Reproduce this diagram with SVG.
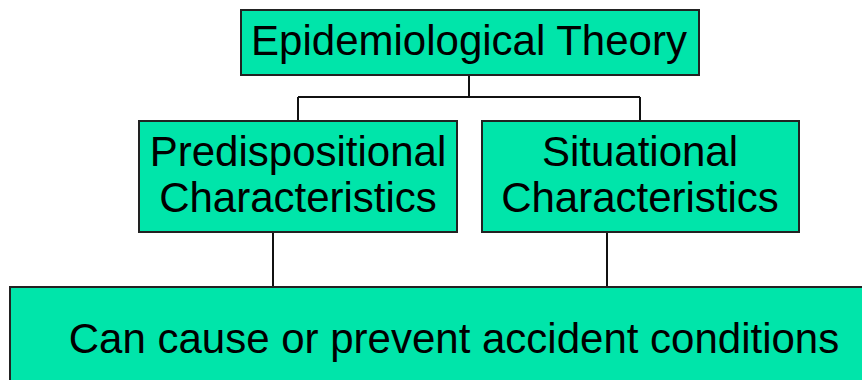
<svg xmlns="http://www.w3.org/2000/svg" width="862" height="380" viewBox="0 0 862 380">
<style>
.box{fill:#00e5aa;stroke:#222;stroke-width:2}
.lbl{font-family:"Liberation Sans",Arial,sans-serif;font-size:42px;fill:#000;text-anchor:middle}
.con{fill:none;stroke:#111;stroke-width:2}
</style>
<rect width="862" height="380" fill="#fff"/>
<g id="connectors">
<path class="con" d="M469 75V97M298 97H640M298 97V121M640 97V121"/>
<path class="con" d="M273 232V287"/>
<path class="con" d="M607 232V287"/>
</g>
<g id="epidemiological-theory">
<rect class="box" x="241" y="10" width="458" height="65"/>
<text class="lbl" x="469" y="55">Epidemiological Theory</text>
</g>
<g id="predispositional">
<rect class="box" x="139" y="121" width="318" height="111"/>
<text class="lbl" x="298" y="166">Predispositional</text>
<text class="lbl" x="298" y="212">Characteristics</text>
</g>
<g id="situational">
<rect class="box" x="482" y="121" width="317" height="111"/>
<text class="lbl" x="640" y="166">Situational</text>
<text class="lbl" x="640" y="212">Characteristics</text>
</g>
<g id="outcome">
<rect class="box" x="10" y="287" width="870" height="110"/>
<text class="lbl" x="454" y="353">Can cause or prevent accident conditions</text>
</g>
</svg>
